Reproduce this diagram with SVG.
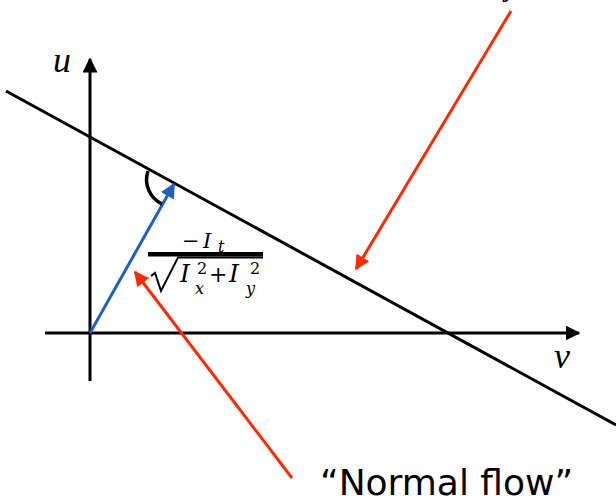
<svg xmlns="http://www.w3.org/2000/svg" width="616" height="502" viewBox="0 0 616 502">
<defs>
<style>
.ax{stroke:#000;stroke-width:3;fill:none}
.red{stroke:#ff2a00;stroke-width:3;fill:none}
.math{font-family:"Liberation Serif","DejaVu Serif",serif;font-style:italic;fill:#000}
.fm{font-family:"DejaVu Serif","Liberation Serif",serif;font-style:italic;fill:#000}
.fr{font-family:"DejaVu Serif","Liberation Serif",serif;fill:#000}
.lbl{font-family:"DejaVu Sans","Liberation Sans",sans-serif;fill:#000}
</style>
<marker id="ahk" viewBox="0 0 10 10" refX="9" refY="5" markerWidth="5" markerHeight="5" markerUnits="strokeWidth" orient="auto"><path d="M0,0 L10,5 L0,10 z" fill="#000"/></marker>
<marker id="ahb" viewBox="0 0 10 10" refX="9" refY="5" markerWidth="5" markerHeight="5" markerUnits="strokeWidth" orient="auto"><path d="M0,0 L10,5 L0,10 z" fill="#1f5fbf"/></marker>
<marker id="ahr" viewBox="0 0 10 10" refX="9" refY="5" markerWidth="5" markerHeight="5" markerUnits="strokeWidth" orient="auto"><path d="M0,0 L10,5 L0,10 z" fill="#ff2a00"/></marker>
</defs>
<rect width="616" height="502" fill="#fff"/>
<g id="connectors">
<line class="ax" x1="90" y1="381" x2="90" y2="59" marker-end="url(#ahk)"/>
<line class="ax" x1="45" y1="333" x2="579" y2="333" marker-end="url(#ahk)"/>
<line class="ax" x1="6" y1="91" x2="616" y2="425"/>
<line x1="90" y1="333" x2="174" y2="184" stroke="#1f5fbf" stroke-width="3" marker-end="url(#ahb)"/>
<path d="M148,171 A27,27 0 0,0 162,204" fill="none" stroke="#000" stroke-width="3.5"/>
<line class="red" x1="511" y1="11" x2="356" y2="269" marker-end="url(#ahr)"/>
<line class="red" x1="292" y1="478" x2="135" y2="272" marker-end="url(#ahr)"/>
</g>
<g id="label-u"><text class="math" x="53" y="72" font-size="36">u</text></g>
<g id="label-v"><text class="math" x="554" y="368" font-size="36">v</text></g>
<g id="label-top"><text class="math" x="505" y="-4" font-size="30">y</text></g>
<g id="formula">
<text font-size="21"><tspan class="fr" x="182" y="248">−</tspan><tspan class="fm" x="203" y="248">I</tspan><tspan class="fm" font-size="16" x="218" y="252">t</tspan></text>
<rect x="148" y="252" width="115" height="4.5" fill="#000"/>
<path d="M151,276 L155,273 L161,291 L178,257.5 L263,257.5" fill="none" stroke="#000" stroke-width="2"/>
<text font-size="25"><tspan class="fm" x="180" y="282">I</tspan><tspan class="fr" font-size="16" x="197" y="274">2</tspan><tspan class="fm" font-size="16" x="195" y="294">x</tspan><tspan class="fr" font-size="22" x="209" y="282">+</tspan><tspan class="fm" x="229" y="282">I</tspan><tspan class="fr" font-size="16" x="250" y="274">2</tspan><tspan class="fm" font-size="16" x="246" y="294">y</tspan></text>
</g>
<g id="label-normal-flow"><text class="lbl" x="320" y="495" font-size="36">“Normal flow”</text></g>
</svg>
